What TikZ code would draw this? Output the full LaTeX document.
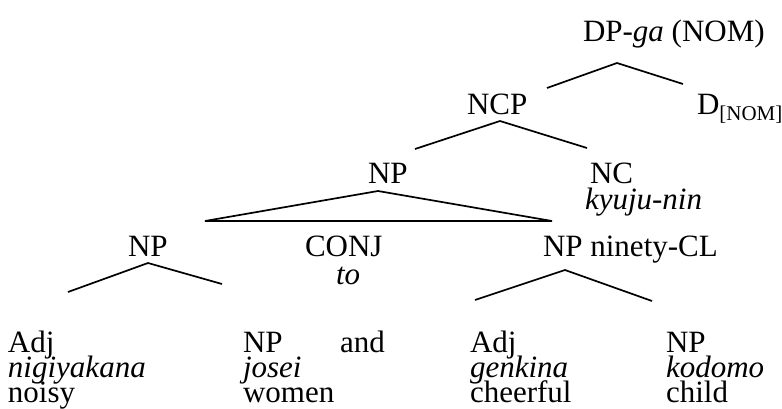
\documentclass[tikz,border=0pt]{standalone}
\usepackage{fontspec}
\setmainfont{Liberation Serif}
\begin{document}
\begin{tikzpicture}[x=1pt,y=-1pt,
  lbl/.style={anchor=base west,inner sep=0pt,outer sep=0pt,font=\fontsize{31}{31}\selectfont},
  branch/.style={line width=1.7pt,line join=miter}]
\useasboundingbox (0,0) rectangle (782,408);
% texts
\node[lbl] (dp) at (583,41) {DP-\textit{ga} (NOM)};
\node[lbl] (ncp) at (467,114) {NCP};
\node[lbl] (d) at (697,114) {D\raisebox{-0.45ex}{\fontsize{21}{21}\selectfont [NOM]}};
\node[lbl] (npc) at (368,183) {NP};
\node[lbl] (nc) at (590,183) {NC};
\node[lbl] (nci) at (585,209) {\textit{kyuju-nin}};
\node[lbl] (npl) at (128,256) {NP};
\node[lbl] (conj) at (305,256) {CONJ};
\node[lbl] (npr) at (543,256) {NP ninety-CL};
\node[lbl] (to) at (336,284) {\textit{to}};
\node[lbl] (adj1) at (8,352) {Adj};
\node[lbl] (np1) at (243,352) {NP};
\node[lbl] (and) at (340,352) {and};
\node[lbl] (adj2) at (470,352) {Adj};
\node[lbl] (np2) at (666,352) {NP};
\node[lbl] (w1) at (8,377) {\textit{nigiyakana}};
\node[lbl] (w2) at (243,377) {\textit{josei}};
\node[lbl] (w3) at (470,377) {\textit{genkina}};
\node[lbl] (w4) at (666,377) {\textit{kodomo}};
\node[lbl] (g1) at (8,402) {noisy};
\node[lbl] (g2) at (243,402) {women};
\node[lbl] (g3) at (470,402) {cheerful};
\node[lbl] (g4) at (666,402) {child};
% branch points
\coordinate (dpt) at (617,63);
\coordinate (dpl) at (547,88);
\coordinate (dpr) at (683,84);
\coordinate (ncpt) at (500,121);
\coordinate (ncpl) at (415,149);
\coordinate (ncpr) at (587,148);
\coordinate (tri) at (378,191);
\coordinate (tril) at (205,221);
\coordinate (trir) at (552,221);
\coordinate (nplt) at (148,263);
\coordinate (npll) at (68,292);
\coordinate (nplr) at (222,284);
\coordinate (nprt) at (565,270);
\coordinate (nprl) at (475,300);
\coordinate (nprr) at (652,301);
\draw[branch] (dpl) -- (dpt) -- (dpr);
\draw[branch] (ncpl) -- (ncpt) -- (ncpr);
\draw[branch] (tril) -- (tri) -- (trir) -- cycle;
\draw[branch] (npll) -- (nplt) -- (nplr);
\draw[branch] (nprl) -- (nprt) -- (nprr);
\end{tikzpicture}
\end{document}
